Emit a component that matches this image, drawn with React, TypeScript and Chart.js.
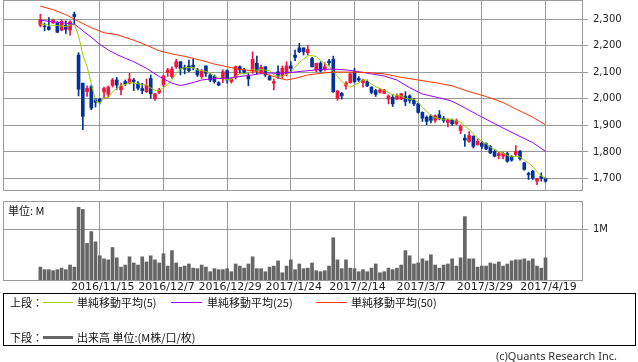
import React, { useEffect, useRef } from "react";
import { Chart, registerables } from "chart.js";
Chart.register(...registerables);

// Trading days (categories)
const dates = [
  "2016/10/25","2016/10/26","2016/10/27","2016/10/28","2016/10/31","2016/11/1","2016/11/2","2016/11/4","2016/11/7","2016/11/8",
  "2016/11/9","2016/11/10","2016/11/11","2016/11/14","2016/11/15","2016/11/16","2016/11/17","2016/11/18","2016/11/21","2016/11/22",
  "2016/11/24","2016/11/25","2016/11/28","2016/11/29","2016/11/30","2016/12/1","2016/12/2","2016/12/5","2016/12/6","2016/12/7",
  "2016/12/8","2016/12/9","2016/12/12","2016/12/13","2016/12/14","2016/12/15","2016/12/16","2016/12/19","2016/12/20","2016/12/21",
  "2016/12/22","2016/12/26","2016/12/27","2016/12/28","2016/12/29","2016/12/30","2017/1/4","2017/1/5","2017/1/6","2017/1/10",
  "2017/1/11","2017/1/12","2017/1/13","2017/1/16","2017/1/17","2017/1/18","2017/1/19","2017/1/20","2017/1/23","2017/1/24",
  "2017/1/25","2017/1/26","2017/1/27","2017/1/30","2017/1/31","2017/2/1","2017/2/2","2017/2/3","2017/2/6","2017/2/7",
  "2017/2/8","2017/2/9","2017/2/10","2017/2/13","2017/2/14","2017/2/15","2017/2/16","2017/2/17","2017/2/20","2017/2/21",
  "2017/2/22","2017/2/23","2017/2/24","2017/2/27","2017/2/28","2017/3/1","2017/3/2","2017/3/3","2017/3/6","2017/3/7",
  "2017/3/8","2017/3/9","2017/3/10","2017/3/13","2017/3/14","2017/3/15","2017/3/16","2017/3/17","2017/3/21","2017/3/22",
  "2017/3/23","2017/3/24","2017/3/27","2017/3/28","2017/3/29","2017/3/30","2017/3/31","2017/4/3","2017/4/4","2017/4/5",
  "2017/4/6","2017/4/7","2017/4/10","2017/4/11","2017/4/12","2017/4/13","2017/4/14","2017/4/17","2017/4/18","2017/4/19",
];

const gridDates = ["2016/11/15","2016/12/7","2016/12/29","2017/1/24","2017/2/14","2017/3/7","2017/3/29","2017/4/19"];
const priceTicks = [1700, 1800, 1900, 2000, 2100, 2200, 2300];
const volumeTicks = [1];

const openP = [
  2277,2274,2271,2286,2286,2259,2277,2259,2318,2165,
  2059,2027,2046,1996,1999,2026,2017,2051,2071,2034,
  2065,2059,2071,2059,2039,2027,2077,2000,2024,2052,
  2099,2084,2121,2140,2119,2124,2127,2109,2084,2124,
  2090,2086,2061,2077,2106,2065,2081,2121,2109,2086,
  2106,2134,2102,2121,2084,2059,2102,2086,2094,2124,
  2165,2192,2192,2174,2152,2109,2134,2112,2142,2149,
  2002,2021,2049,2061,2102,2077,2061,2065,2044,2031,
  2025,2021,1999,2006,1999,1999,2009,2011,1996,1981,
  1949,1931,1936,1919,1940,1927,1911,1919,1906,1881,
  1852,1840,1859,1827,1834,1831,1821,1802,1786,1784,
  1794,1784,1790,1802,1759,1719,1727,1690,1709,1699,
];
const highP = [
  2319,2285,2306,2300,2291,2299,2294,2294,2327,2174,
  2059,2049,2052,2002,2002,2044,2049,2077,2081,2059,
  2071,2096,2077,2065,2059,2075,2090,2021,2040,2090,
  2115,2121,2149,2140,2127,2146,2152,2115,2111,2124,
  2096,2090,2065,2109,2109,2077,2124,2124,2115,2096,
  2177,2161,2127,2121,2090,2074,2124,2124,2140,2140,
  2184,2209,2192,2202,2156,2134,2140,2136,2149,2161,
  2031,2024,2065,2099,2115,2084,2074,2071,2046,2036,
  2040,2036,2015,2015,2019,2021,2027,2015,2002,1984,
  1951,1936,1940,1940,1956,1934,1925,1924,1924,1902,
  1865,1877,1861,1849,1840,1834,1824,1809,1799,1799,
  1799,1786,1824,1806,1761,1724,1731,1702,1721,1702,
];
const lowP = [
  2271,2256,2259,2284,2249,2256,2246,2240,2280,2011,
  1884,2009,1959,1969,1981,2002,2006,2044,2036,2015,
  2050,2056,2031,2034,2019,2024,2002,1994,2019,2046,
  2084,2077,2115,2090,2094,2102,2109,2084,2077,2084,
  2065,2059,2049,2061,2059,2059,2074,2096,2094,2049,
  2096,2094,2094,2084,2071,2034,2077,2077,2086,2102,
  2144,2174,2165,2165,2119,2102,2101,2105,2127,2024,
  1994,1999,2036,2059,2059,2065,2044,2046,2019,2009,
  2021,2019,1981,1971,1996,1996,1974,1984,1974,1946,
  1915,1902,1909,1911,1921,1911,1894,1900,1902,1869,
  1821,1836,1815,1826,1811,1809,1794,1781,1774,1774,
  1761,1765,1784,1769,1731,1696,1696,1677,1690,1686,
];
const closeP = [
  2299,2272,2261,2296,2251,2292,2262,2290,2310,2036,
  1934,2040,1965,1987,1990,2039,2044,2071,2052,2049,
  2056,2075,2065,2040,2031,2052,2019,2019,2034,2086,
  2109,2112,2140,2115,2112,2106,2119,2090,2106,2096,
  2071,2065,2052,2102,2071,2074,2121,2109,2101,2075,
  2149,2106,2119,2090,2071,2065,2086,2115,2124,2115,
  2156,2177,2177,2186,2121,2134,2105,2121,2136,2027,
  2030,2011,2059,2094,2065,2071,2071,2049,2024,2017,
  2034,2034,2011,1981,2011,2019,1990,1994,1981,1949,
  1927,1915,1919,1936,1926,1919,1921,1906,1919,1896,
  1844,1862,1821,1840,1821,1811,1796,1784,1794,1794,
  1765,1769,1802,1774,1734,1714,1702,1699,1701,1690,
];

const ma5 = [
  2281,2280,2277,2277,2276,2274,2272,2278,2281,2238,
  2166,2122,2057,1992,1983,2004,2005,2026,2039,2051,
  2054,2061,2059,2057,2053,2053,2041,2032,2031,2042,
  2053,2072,2096,2112,2118,2117,2118,2108,2107,2103,
  2096,2086,2078,2077,2072,2073,2084,2095,2095,2096,
  2111,2108,2110,2108,2107,2090,2086,2085,2092,2101,
  2119,2137,2150,2162,2163,2159,2145,2133,2123,2105,
  2084,2065,2053,2044,2052,2060,2072,2070,2056,2046,
  2039,2032,2024,2015,2014,2011,2002,1999,1999,1987,
  1968,1953,1938,1929,1925,1923,1924,1922,1918,1912,
  1897,1885,1868,1853,1838,1831,1818,1810,1801,1796,
  1787,1781,1785,1781,1769,1759,1745,1725,1710,1701,
];

// 25- and 50-day moving averages, read at points along the lines [index, value]
const ma25Pts = [
  [0,2296],[3,2290],[6,2285],[8,2281],[9,2270],[10,2256],[12,2232],[14,2205],[16,2184],[18,2167],
  [20,2153],[22,2140],[25,2115],[28,2084],[31,2059],[33,2050],[35,2057],[38,2071],[41,2077],[44,2077],
  [47,2084],[50,2090],[53,2098],[56,2096],[60,2101],[63,2106],[66,2111],[69,2112],[72,2109],[74,2105],
  [78,2094],[81,2086],[84,2071],[87,2042],[90,2018],[94,2004],[97,1991],[100,1966],[103,1940],[106,1915],
  [109,1890],[112,1866],[116,1835],[119,1802],
];
const ma50Pts = [
  [0,2349],[3,2336],[6,2317],[9,2292],[12,2268],[15,2249],[18,2242],[22,2221],[25,2202],[28,2181],
  [31,2169],[34,2160],[38,2145],[41,2131],[44,2121],[47,2111],[50,2106],[53,2094],[56,2079],[58,2071],
  [60,2077],[63,2090],[66,2096],[69,2101],[73,2101],[77,2099],[81,2094],[85,2081],[89,2071],[93,2061],
  [97,2049],[101,2027],[105,2009],[109,1986],[112,1962],[116,1931],[119,1902],
];

// Volume in millions
const volume = [
  0.27,0.22,0.22,0.20,0.22,0.25,0.22,0.31,0.27,1.43,
  1.39,0.73,0.96,0.76,0.49,0.43,0.41,0.65,0.45,0.27,
  0.31,0.47,0.35,0.31,0.47,0.37,0.49,0.41,0.35,0.53,
  0.29,0.59,0.35,0.27,0.29,0.33,0.25,0.24,0.31,0.27,
  0.18,0.24,0.22,0.22,0.24,0.18,0.33,0.29,0.25,0.33,
  0.47,0.24,0.24,0.18,0.27,0.29,0.39,0.16,0.29,0.41,
  0.22,0.33,0.24,0.25,0.35,0.20,0.18,0.20,0.29,0.84,
  0.41,0.24,0.41,0.25,0.24,0.18,0.22,0.18,0.25,0.33,
  0.16,0.18,0.25,0.22,0.25,0.31,0.59,0.49,0.33,0.35,
  0.43,0.39,0.51,0.31,0.25,0.31,0.33,0.43,0.29,0.45,
  1.25,0.43,0.43,0.27,0.29,0.29,0.35,0.33,0.37,0.29,
  0.33,0.39,0.41,0.41,0.43,0.39,0.43,0.29,0.25,0.45,
];

const UP = "#f2143c";
const DOWN = "#003399";
const GRID = "#999999";
const X_MIN = -8.8;
const X_MAX = 127.83;

const framePlugin = {
  id: "frame",
  afterDraw(chart: any) {
    const { ctx, chartArea: a } = chart;
    ctx.save();
    ctx.strokeStyle = GRID;
    ctx.lineWidth = 1;
    ctx.strokeRect(a.left + 0.5, a.top + 0.5, a.right - a.left - 1, a.bottom - a.top - 1);
    ctx.restore();
  },
};

export default function App() {
  const priceRef = useRef<HTMLCanvasElement>(null);
  const volRef = useRef<HTMLCanvasElement>(null);

  useEffect(() => {
    const gridIdx = gridDates.map((d) => dates.indexOf(d));
    const colors = closeP.map((c, i) => (c >= openP[i] ? UP : DOWN));
    const idx = dates.map((_, i) => i);

    const price = new Chart(priceRef.current as HTMLCanvasElement, {
      type: "bar",
      data: {
        datasets: [
          { type: "line", data: ma50Pts.map(([x, y]) => ({ x, y })), borderColor: "#ff3300", borderWidth: 1, pointRadius: 0, order: 0 } as any,
          { type: "line", data: ma25Pts.map(([x, y]) => ({ x, y })), borderColor: "#9900ff", borderWidth: 1, pointRadius: 0, order: 0 } as any,
          { type: "line", data: ma5.map((y, x) => ({ x, y })), borderColor: "#99cc00", borderWidth: 1, pointRadius: 0, order: 0 } as any,
          { type: "bar", data: idx.map((i) => ({ x: i, y: [openP[i], closeP[i]] })), backgroundColor: colors, barThickness: 3, grouped: false, order: 1 } as any,
          { type: "bar", data: idx.map((i) => ({ x: i, y: [lowP[i], highP[i]] })), backgroundColor: colors, barThickness: 1, grouped: false, order: 2 } as any,
        ],
      },
      options: {
        animation: false,
        responsive: false,
        maintainAspectRatio: false,
        events: [],
        layout: { padding: { left: 3, top: 0, right: 0, bottom: 0 } },
        plugins: { legend: { display: false }, tooltip: { enabled: false } },
        scales: {
          x: {
            type: "linear", min: X_MIN, max: X_MAX, offset: false,
            grid: { color: GRID, drawTicks: false, offset: false },
            border: { display: false },
            ticks: { display: false },
            afterBuildTicks: (s: any) => { s.ticks = gridIdx.map((v) => ({ value: v })); },
            afterFit: (s: any) => { s.height = 5; s.paddingLeft = 0; s.paddingRight = 0; },
          } as any,
          y: {
            position: "right", min: 1652.9, max: 2372.3,
            grid: { color: GRID, tickLength: 5 },
            border: { display: false },
            ticks: {
              padding: 5, color: "#222", font: { family: "DejaVu Sans", size: 10 },
              callback: (v: any) => Number(v).toLocaleString("en-US"),
            },
            afterBuildTicks: (s: any) => { s.ticks = priceTicks.map((v) => ({ value: v })); },
            afterFit: (s: any) => { s.width = 55; s.paddingTop = 0; s.paddingBottom = 0; },
          } as any,
        },
      },
      plugins: [framePlugin],
    });

    const vol = new Chart(volRef.current as HTMLCanvasElement, {
      type: "bar",
      data: {
        datasets: [
          { data: idx.map((i) => ({ x: i, y: volume[i] })), backgroundColor: "#666666", barThickness: 3, grouped: false } as any,
        ],
      },
      options: {
        animation: false,
        responsive: false,
        maintainAspectRatio: false,
        events: [],
        layout: { padding: { left: 3, top: 5, right: 0, bottom: 0 } },
        plugins: { legend: { display: false }, tooltip: { enabled: false } },
        scales: {
          x: {
            type: "linear", min: X_MIN, max: X_MAX, offset: false,
            grid: { color: GRID, drawTicks: false, offset: false },
            border: { display: false },
            ticks: {
              padding: 0, autoSkip: false, maxRotation: 0, minRotation: 0, labelOffset: 3,
              color: "#222", font: { family: "DejaVu Sans", size: 11 },
              callback: (v: any) => dates[Math.round(Number(v))] ?? "",
            },
            afterBuildTicks: (s: any) => { s.ticks = gridIdx.map((v) => ({ value: v })); },
            afterFit: (s: any) => { s.height = 13; s.paddingLeft = 0; s.paddingRight = 0; },
          } as any,
          y: {
            position: "right", min: 0, max: 1.553,
            grid: { color: GRID, tickLength: 5 },
            border: { display: false },
            ticks: {
              padding: 5, color: "#222", font: { family: "DejaVu Sans", size: 10 },
              callback: (v: any) => `${v}M`,
            },
            afterBuildTicks: (s: any) => { s.ticks = volumeTicks.map((v) => ({ value: v })); },
            afterFit: (s: any) => { s.width = 55; s.paddingTop = 0; s.paddingBottom = 0; },
          } as any,
        },
      },
      plugins: [framePlugin],
    });

    return () => {
      price.destroy();
      vol.destroy();
    };
  }, []);

  const jp = '"Noto Sans CJK JP", "Noto Sans", sans-serif';
  const txt = (left: number, cy: number, s: string, extra: any = {}) => (
    <span style={{ position: "absolute", left, top: cy - 7, lineHeight: "14px", fontSize: 11, fontFamily: jp, color: "#111", whiteSpace: "nowrap", ...extra }}>{s}</span>
  );
  const line = (left: number, width: number, cy: number, color: string, h = 1) => (
    <div style={{ position: "absolute", left, width, top: cy - Math.floor(h / 2), height: h, background: color }} />
  );

  return (
    <div style={{ position: "absolute", left: 0, top: 0, width: 638, height: 362, background: "#fff", overflow: "hidden" }}>
      <canvas ref={priceRef} width={638} height={196} style={{ position: "absolute", left: 0, top: 0, width: 638, height: 196 }} />
      <canvas ref={volRef} width={638} height={98} style={{ position: "absolute", left: 0, top: 196, width: 638, height: 98 }} />
      {txt(8, 210, "単位: M")}
      <div style={{ position: "absolute", left: 3, top: 293, width: 633, height: 53, border: "1px solid #000", boxSizing: "border-box" }} />
      {txt(10, 302, "上段：")}
      {line(43, 30, 302, "#99cc00")}
      {txt(77, 302, "単純移動平均(5)")}
      {line(171, 31, 302, "#9900ff")}
      {txt(207, 302, "単純移動平均(25)")}
      {line(316, 31, 302, "#ff3300")}
      {txt(351, 302, "単純移動平均(50)")}
      {txt(10, 337, "下段：")}
      {line(43, 30, 337, "#666666", 3)}
      {txt(77, 337, "出来高 単位:(M株/口/枚)")}
      <span style={{ position: "absolute", right: 21, top: 349, lineHeight: "14px", fontSize: 11, fontFamily: '"Noto Sans", sans-serif', color: "#333", whiteSpace: "nowrap" }}>(c)Quants Research Inc.</span>
    </div>
  );
}
